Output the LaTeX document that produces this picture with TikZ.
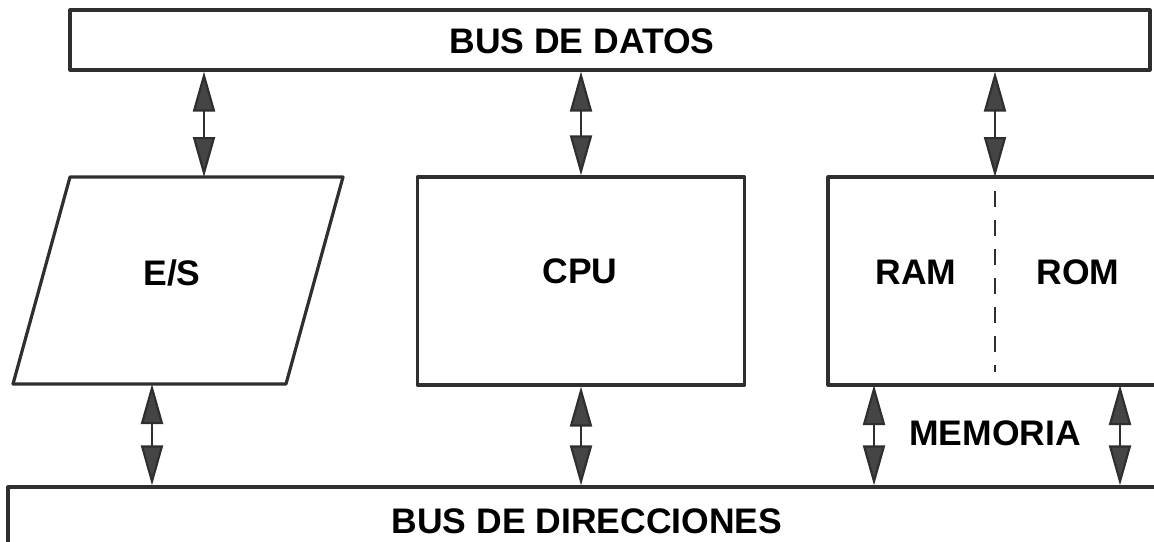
\documentclass[tikz,border=0pt]{standalone}
\usepackage{fontspec}
\setmainfont{Liberation Sans}
\usetikzlibrary{arrows.meta}

\definecolor{linegray}{HTML}{2F2F2F}
\definecolor{tipgray}{HTML}{454545}

\begin{document}
\begin{tikzpicture}[x=1pt,y=-1pt,
	box/.style={draw=linegray, line width=3.2pt, line join=round, inner sep=0pt},
	lbl/.style={font=\bfseries\fontsize{35.5}{40}\selectfont, inner sep=0pt},
	link/.style={draw=linegray, line width=2.2pt,
		{Triangle[length=40pt,width=22pt,fill=tipgray]}-{Triangle[length=40pt,width=22pt,fill=tipgray]}},
	divider/.style={draw=linegray, line width=2pt, dash pattern=on 16pt off 13pt}]

	\useasboundingbox (0,0) rectangle (1154,541);

	% buses
	\node[box, minimum width=1080pt, minimum height=60pt] (datos) at (610,40) {};
	\node[lbl] (datoslbl) at (582,41) {BUS DE DATOS};
	\node[box, lbl, minimum width=1158pt, minimum height=68pt] (direcciones) at (587,521) {BUS DE DIRECCIONES};

	% E/S block
	\coordinate (es1) at (13,384);
	\coordinate (es2) at (286,384);
	\coordinate (es3) at (343,177);
	\coordinate (es4) at (70,177);
	\draw[box] (es1) -- (es2) -- (es3) -- (es4) -- cycle;
	\node[lbl] (es) at (172,273) {E/S};

	% CPU
	\node[box, minimum width=327pt, minimum height=208pt] (cpu) at (581,281) {};
	\node[lbl] (cpulbl) at (580,271) {CPU};

	% memory
	\node[box, minimum width=352pt, minimum height=208pt] (mem) at (1004,281) {};
	\coordinate (div) at (995,177);
	\draw[divider] (995,191) -- (995,372);
	\node[lbl] (ram) at (916,272) {RAM};
	\node[lbl] (rom) at (1078,272) {ROM};
	\node[lbl] (memoria) at (995,433) {MEMORIA};

	% links to the buses
	\coordinate (esa) at (204,177);
	\coordinate (esb) at (152,384);
	\coordinate (mema) at (874,385);
	\coordinate (memb) at (1120,385);
	\draw[link] (datos.south -| esa) -- (esa);
	\draw[link] (datos.south -| cpu.north) -- (cpu.north);
	\draw[link] (datos.south -| div) -- (div);
	\draw[link] (esb) -- (esb |- direcciones.north);
	\draw[link] (cpu.south) -- (cpu.south |- direcciones.north);
	\draw[link] (mema) -- (mema |- direcciones.north);
	\draw[link] (memb) -- (memb |- direcciones.north);
\end{tikzpicture}
\end{document}
